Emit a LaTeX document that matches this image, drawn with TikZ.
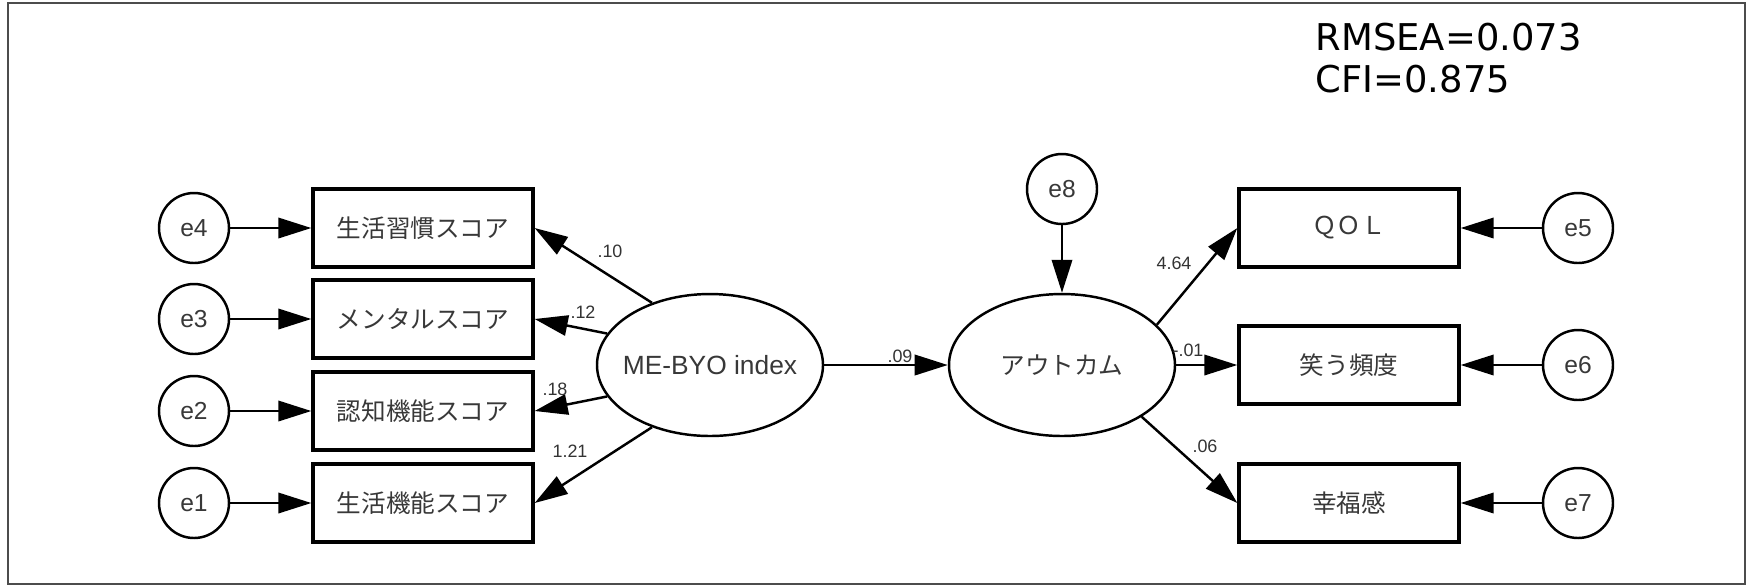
\documentclass[tikz,border=0pt]{standalone}
\usepackage{fontspec}
\setmainfont{Liberation Sans}
\newfontfamily\jpfont{Noto Sans CJK JP}
\newfontfamily\fitfont{DejaVu Sans}
\usepackage{tikz}
\usetikzlibrary{arrows.meta,positioning,shapes}
\tikzset{
  errnode/.style={circle,draw=black,line width=0.7pt,minimum size=7mm,inner sep=0pt,text=black!78,font=\fontsize{7}{8}\selectfont},
  obsbox/.style={rectangle,draw=black,line width=0.95pt,minimum width=22mm,minimum height=7.8mm,inner sep=0pt,text=black!78,font=\jpfont\fontsize{7}{8}\selectfont},
  latnode/.style={ellipse,draw=black,line width=0.7pt,minimum width=22.6mm,minimum height=14.2mm,inner sep=0pt,inner xsep=-1mm,text=black!78},
  diredge/.style={-{Triangle[length=9.4pt,width=5.8pt]},line width=0.7pt,black},
  coefl/.style={inner sep=0pt,text=black!80,font=\fontsize{5.1}{6}\selectfont},
  fitline/.style={anchor=base west,inner sep=0pt,font=\fitfont\fontsize{10.5}{12}\selectfont},
}

\begin{document}
\begin{tikzpicture}[x=0.1mm,y=-0.1mm]
  \useasboundingbox (0,0) rectangle (1747,587);
  \draw[black!70,line width=0.6pt] (8,3) rectangle (1745,584);
  \node[fitline] (fitR) at (1315,50) {RMSEA=0.073};
  \node[fitline] (fitC) at (1315,92) {CFI=0.875};
  \node[obsbox] (nB1) at (423,228) {生活習慣スコア};
  \node[obsbox] (nB2) at (423,319) {メンタルスコア};
  \node[obsbox] (nB3) at (423,411) {認知機能スコア};
  \node[obsbox] (nB4) at (423,503) {生活機能スコア};
  \node[errnode] (nE4) at (194,228) {e4};
  \node[errnode] (nE3) at (194,319) {e3};
  \node[errnode] (nE2) at (194,411) {e2};
  \node[errnode] (nE1) at (194,503) {e1};
  \node[latnode,font=\fontsize{7.5}{9}\selectfont] (nMB) at (710,365) {ME-BYO index};
  \node[latnode,font=\jpfont\fontsize{7}{8}\selectfont] (nOC) at (1062,365) {アウトカム};
  \node[errnode] (nE8) at (1062,189) {e8};
  \node[obsbox] (nQ1) at (1349,228) {ＱＯＬ};
  \node[obsbox] (nQ2) at (1349,365) {笑う頻度};
  \node[obsbox] (nQ3) at (1349,503) {幸福感};
  \node[errnode] (nE5) at (1578,228) {e5};
  \node[errnode] (nE6) at (1578,365) {e6};
  \node[errnode] (nE7) at (1578,503) {e7};
  \draw[diredge] (nE4) -- (nB1);
  \draw[diredge] (nE3) -- (nB2);
  \draw[diredge] (nE2) -- (nB3);
  \draw[diredge] (nE1) -- (nB4);
  \draw[diredge] (nMB.133) -- (nB1.east);
  \draw[diredge] (nMB.163) -- (nB2.east);
  \draw[diredge] (nMB.197) -- (nB3.east);
  \draw[diredge] (nMB.227) -- (nB4.east);
  \draw[diredge] (nMB) -- (nOC);
  \draw[diredge] (nE8) -- (nOC);
  \draw[diredge] (nOC.23) -- (nQ1.west);
  \draw[diredge] (nOC.east) -- (nQ2.west);
  \draw[diredge] (nOC.-33) -- (nQ3.west);
  \draw[diredge] (nE5) -- (nQ1);
  \draw[diredge] (nE6) -- (nQ2);
  \draw[diredge] (nE7) -- (nQ3);
  \node[coefl] (cB1) at (610,251) {.10};
  \node[coefl] (cB2) at (583,312) {.12};
  \node[coefl] (cB3) at (555,389) {.18};
  \node[coefl] (cB4) at (570,451) {1.21};
  \node[coefl] (cMO) at (900,356) {.09};
  \node[coefl] (cQ1) at (1174,263) {4.64};
  \node[coefl] (cQ2) at (1188,350) {-.01};
  \node[coefl] (cQ3) at (1205,446) {.06};
\end{tikzpicture}
\end{document}
